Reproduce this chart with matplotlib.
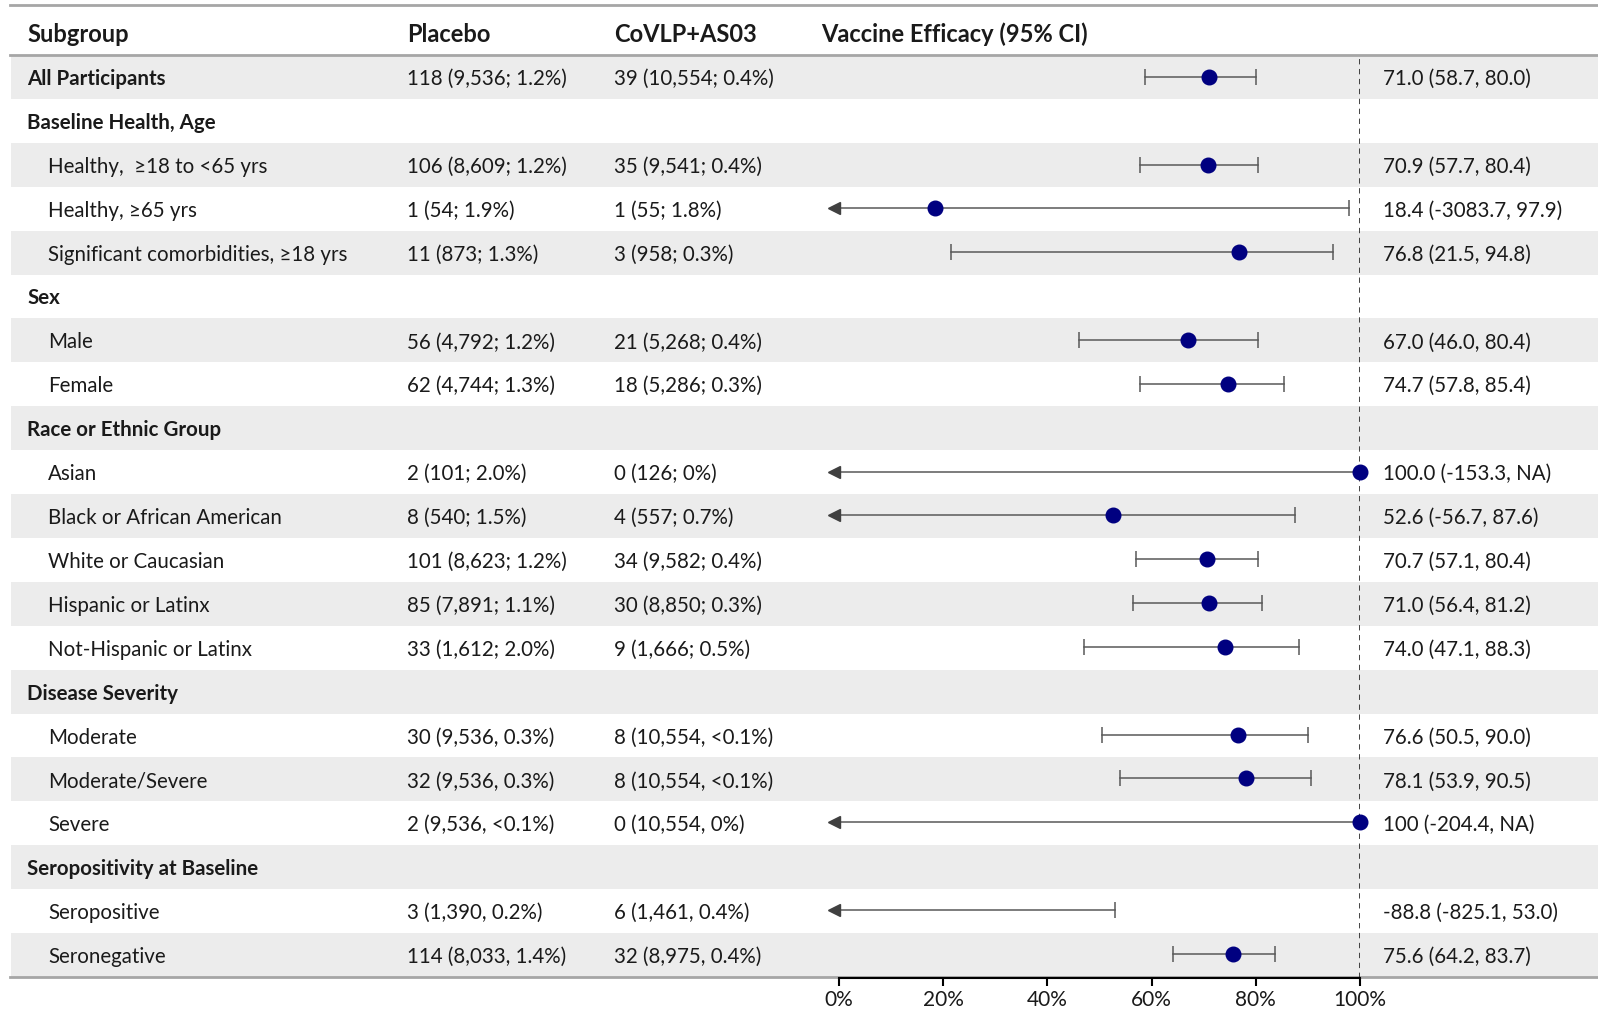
import matplotlib.pyplot as plt
import numpy as np

plt.rcParams['font.family'] = ['Lato', 'DejaVu Sans']

labels = ['All Participants', 'Baseline Health, Age', 'Healthy,  \u226518 to <65 yrs', 'Healthy, \u226565 yrs',
          'Significant comorbidities, \u226518 yrs', 'Sex', 'Male', 'Female', 'Race or Ethnic Group',
          'Asian', 'Black or African American', 'White or Caucasian', 'Hispanic or Latinx',
          'Not-Hispanic or Latinx', 'Disease Severity', 'Moderate', 'Moderate/Severe', 'Severe',
          'Seropositivity at Baseline', 'Seropositive', 'Seronegative']
bold = [1, 1, 0, 0, 0, 1, 0, 0, 1, 0, 0, 0, 0, 0, 1, 0, 0, 0, 1, 0, 0]
placebo = ['118 (9,536; 1.2%)', '', '106 (8,609; 1.2%)', '1 (54; 1.9%)', '11 (873; 1.3%)', '',
           '56 (4,792; 1.2%)', '62 (4,744; 1.3%)', '', '2 (101; 2.0%)', '8 (540; 1.5%)',
           '101 (8,623; 1.2%)', '85 (7,891; 1.1%)', '33 (1,612; 2.0%)', '', '30 (9,536, 0.3%)',
           '32 (9,536, 0.3%)', '2 (9,536, <0.1%)', '', '3 (1,390, 0.2%)', '114 (8,033, 1.4%)']
vaccine = ['39 (10,554; 0.4%)', '', '35 (9,541; 0.4%)', '1 (55; 1.8%)', '3 (958; 0.3%)', '',
           '21 (5,268; 0.4%)', '18 (5,286; 0.3%)', '', '0 (126; 0%)', '4 (557; 0.7%)',
           '34 (9,582; 0.4%)', '30 (8,850; 0.3%)', '9 (1,666; 0.5%)', '', '8 (10,554, <0.1%)',
           '8 (10,554, <0.1%)', '0 (10,554, 0%)', '', '6 (1,461, 0.4%)', '32 (8,975, 0.4%)']
nan = np.nan
est = [71.0, nan, 70.9, 18.4, 76.8, nan, 67.0, 74.7, nan, 100.0, 52.6, 70.7, 71.0, 74.0, nan,
       76.6, 78.1, 100.0, nan, -88.8, 75.6]
lo = [58.7, nan, 57.7, -3083.7, 21.5, nan, 46.0, 57.8, nan, -153.3, -56.7, 57.1, 56.4, 47.1, nan,
      50.5, 53.9, -204.4, nan, -825.1, 64.2]
hi = [80.0, nan, 80.4, 97.9, 94.8, nan, 80.4, 85.4, nan, nan, 87.6, 80.4, 81.2, 88.3, nan,
      90.0, 90.5, nan, nan, 53.0, 83.7]
ve_text = ['71.0 (58.7, 80.0)', '', '70.9 (57.7, 80.4)', '18.4 (-3083.7, 97.9)', '76.8 (21.5, 94.8)', '',
           '67.0 (46.0, 80.4)', '74.7 (57.8, 85.4)', '', '100.0 (-153.3, NA)', '52.6 (-56.7, 87.6)',
           '70.7 (57.1, 80.4)', '71.0 (56.4, 81.2)', '74.0 (47.1, 88.3)', '', '76.6 (50.5, 90.0)',
           '78.1 (53.9, 90.5)', '100 (-204.4, NA)', '', '-88.8 (-825.1, 53.0)', '75.6 (64.2, 83.7)']
headers = ['Subgroup', 'Placebo', 'CoVLP+AS03', 'Vaccine Efficacy (95% CI)']
ticks = [0, 20, 40, 60, 80, 100]

W, H = 1598, 1010
row_h = 43.9
y0 = 77
txt = '#1a1a1a'
band = '#ececec'
rule = '#a6a6a6'
fs = 14.8

fig = plt.figure(figsize=(W / 100, H / 100), dpi=100)
ax = fig.add_axes([0, 0, 1, 1])
ax.set_xlim(0, W)
ax.set_ylim((H - y0) / row_h, -y0 / row_h)
ax.axis('off')

n = len(labels)
for i in range(n):
    if i % 2 == 0:
        ax.axhspan(i - 0.5, i + 0.5, xmin=11 / W, xmax=1, color=band, lw=0, zorder=0)
    fw = 'bold' if bold[i] else 'normal'
    xl = 27 if bold[i] else 48
    ax.text(xl, i, labels[i], fontsize=fs, fontweight=fw, color=txt, va='center_baseline')
    ax.text(407, i, placebo[i], fontsize=fs, color=txt, va='center_baseline')
    ax.text(614, i, vaccine[i], fontsize=fs, color=txt, va='center_baseline')
    ax.text(1383, i, ve_text[i], fontsize=fs, color=txt, va='center_baseline')

hy = (32 - y0) / row_h
for xh, h in zip([27, 407, 614, 821], headers):
    ax.text(xh, hy, h, fontsize=17, fontweight='bold', color=txt, va='center_baseline')

ax.axhline((5 - y0) / row_h, xmin=10 / W, xmax=1, color=rule, lw=2)
ax.axhline(-0.5, xmin=10 / W, xmax=1, color=rule, lw=2)
ax.axhline(n - 0.5, xmin=10 / W, xmax=1, color=rule, lw=2)

# forest panel
x0px, x1px = 839, 1360
bx = fig.add_axes([x0px / W, 1 - 978 / H, (x1px - x0px) / W, (978 - 55) / H])
bx.patch.set_alpha(0)
bx.set_xlim(0, 100)
bx.set_ylim(n - 0.45, -0.5)
for s in ['top', 'left', 'right']:
    bx.spines[s].set_visible(False)
bx.spines['bottom'].set_linewidth(1.5)
bx.set_yticks([])
bx.set_xticks(ticks)
bx.set_xticklabels([f'{t}%' for t in ticks], fontsize=15, color=txt)
bx.tick_params(axis='x', length=6, width=1.5, pad=3)
bx.axvline(100, color='#111111', lw=1.1, ls=(0, (3.5, 3)), zorder=1)

lc = '#595959'
for i in range(n):
    if np.isnan(lo[i]):
        continue
    left = lo[i] if lo[i] >= 0 else -1.0
    right = hi[i] if not np.isnan(hi[i]) else est[i]
    bx.plot([left, right], [i, i], color=lc, lw=1.1, clip_on=False, zorder=2)
    if lo[i] >= 0:
        bx.plot(lo[i], i, marker='|', ms=11, mew=1.1, color=lc, zorder=2)
    else:
        bx.plot(-1.0, i, marker='<', ms=8, color='#404040', clip_on=False, zorder=2)
    if not np.isnan(hi[i]):
        bx.plot(hi[i], i, marker='|', ms=11, mew=1.1, color=lc, zorder=2)
    if 0 <= est[i] <= 100:
        bx.plot(est[i], i, marker='o', ms=10.5, color='#000080', clip_on=False, zorder=3)

fig.savefig('out.png', dpi=100)
